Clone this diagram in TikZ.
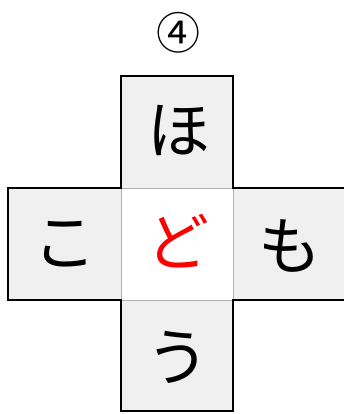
\documentclass[tikz,border=0pt]{standalone}
\usepackage{fontspec}
\newfontfamily\cjk{Noto Sans CJK JP}
\definecolor{cellgray}{HTML}{F0F0F0}
\definecolor{innergray}{HTML}{B0B0B0}
\begin{document}
\begin{tikzpicture}[x=1pt,y=-1pt,
  cell/.style={fill=cellgray,draw=none},
  kana/.style={font=\cjk\fontsize{63}{63}\selectfont,inner sep=0pt},
  inner/.style={draw=innergray,line width=0.8pt},
  outer/.style={draw=black,line width=2pt,line join=miter}]
\useasboundingbox (0,0) rectangle (344,414);
\fill[cellgray] (121,76) rectangle (233,188);
\fill[cellgray] (8,188) rectangle (121,300);
\fill[cellgray] (233,188) rectangle (344,300);
\fill[cellgray] (121,300) rectangle (233,411);
\fill[white] (121,188) rectangle (233,300);
\draw[inner] (121,188) rectangle (233,300);
\draw[outer] (344,188) -- (233,188) -- (233,76) -- (121,76) -- (121,188) -- (8,188) -- (8,300) -- (121,300) -- (121,411) -- (233,411) -- (233,300) -- (344,300);
\node[font=\cjk\fontsize{44}{44}\selectfont,inner sep=0pt] (num) at (178,33) {④};
\node[kana] (ho) at (179,131) {ほ};
\node[kana] (ko) at (65,244) {こ};
\node[kana,text=red] (do) at (178,241) {ど};
\node[kana] (mo) at (290,246) {も};
\node[kana] (u) at (178,357) {う};
\end{tikzpicture}
\end{document}
